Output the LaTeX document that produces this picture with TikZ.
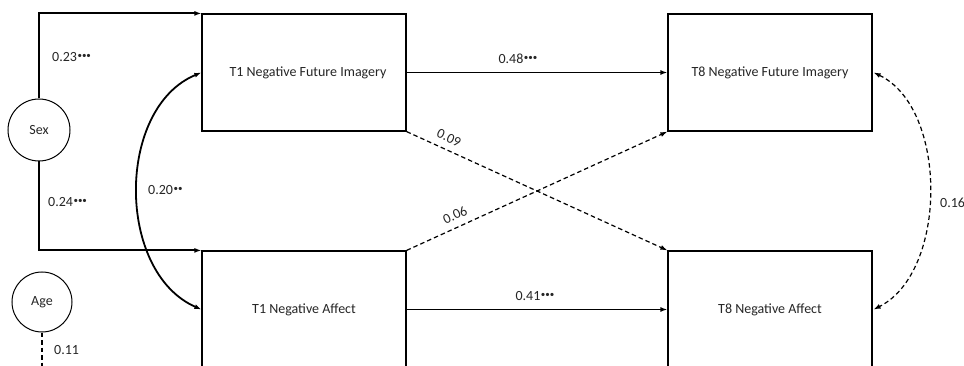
\documentclass[tikz,border=0pt]{standalone}
\usepackage{fontspec}
\setmainfont{Carlito}
\usetikzlibrary{arrows.meta}
\newcommand{\sigdots}[1]{\kern0.5pt\raisebox{0.5ex}{\fontsize{9}{9}\selectfont #1}}
\begin{document}
\begin{tikzpicture}[x=1pt,y=-1pt,
  font=\fontsize{14}{16}\selectfont,
  txt/.style={text=black!85},
  varbox/.style={draw, line width=1.2pt, minimum width=204pt, minimum height=117pt, inner sep=0pt, txt},
  covar/.style={draw, circle, line width=1pt, minimum size=62pt, inner sep=0pt, txt},
  path/.style={line width=1.8pt, -{Latex[length=7pt,width=5pt]}},
  weak/.style={line width=1.2pt, dash pattern=on 4.5pt off 3pt, -{Latex[length=7pt,width=5pt]}},
  twoway/.style={line width=1.8pt, {Latex[length=7pt,width=5pt]}-{Latex[length=7pt,width=5pt]}},
  weaktwoway/.style={line width=1.2pt, dash pattern=on 4.5pt off 3pt, {Latex[length=7pt,width=5pt]}-{Latex[length=7pt,width=5pt]}},
  lab/.style={txt, inner sep=1pt}
]
\useasboundingbox (0,0) rectangle (964,366);
\fill[white] (0,0) rectangle (964,366);

% observed variables
\node[varbox] (t1f) at (304,72.5) {\hspace*{8pt}T1 Negative Future Imagery};
\node[varbox] (t8f) at (770,72.5) {T8 Negative Future Imagery};
\node[varbox] (t1a) at (304,309.5) {T1 Negative Affect};
\node[varbox] (t8a) at (770,309.5) {T8 Negative Affect};

% covariates
\node[covar] (sex) at (39,130) {Sex};
\node[covar, minimum size=60pt] (age) at (42,302) {Age};
\coordinate (ageend) at (42,372);

% covariate paths
\draw[path] (sex.north) |- (t1f.north west);
\draw[path] (sex.south) |- (t1a.north west);
\draw[line width=1.2pt, dash pattern=on 4.5pt off 3pt] (age.south) -- (ageend);
\node[lab, anchor=west] (l23) at (51,57) {0.23\sigdots{•••}};
\node[lab, anchor=west] (l24) at (47,202) {0.24\sigdots{•••}};
\node[lab, anchor=west] (l11) at (53,350) {0.11};

% stability paths
\draw[path] (t1f.east) -- (t8f.west);
\draw[path] (t1a.east) -- (t8a.west);
\node[lab] (l48) at (518,59) {0.48\sigdots{•••}};
\node[lab] (l41) at (535,296) {0.41\sigdots{•••}};

% cross-lagged paths
\draw[weak] (t1f.south east) -- (t8a.north west);
\draw[weak] (t1a.north east) -- (t8f.south west);
\node[lab, rotate=-24.6] (l09) at (449,138) {0.09};
\node[lab, rotate=24.6] (l06) at (455,215) {0.06};

% residual covariances
\draw[twoway] (t1f.west) .. controls (116,108) and (116,272) .. (t1a.west);
\node[lab, anchor=west] (l20) at (147,190) {0.20\sigdots{••}};
\draw[weaktwoway] ([xshift=1pt]t8f.east) .. controls (948,108) and (948,272) .. ([xshift=1pt]t8a.east);
\node[lab, anchor=west] (l16) at (939,203) {0.16};
\end{tikzpicture}
\end{document}
